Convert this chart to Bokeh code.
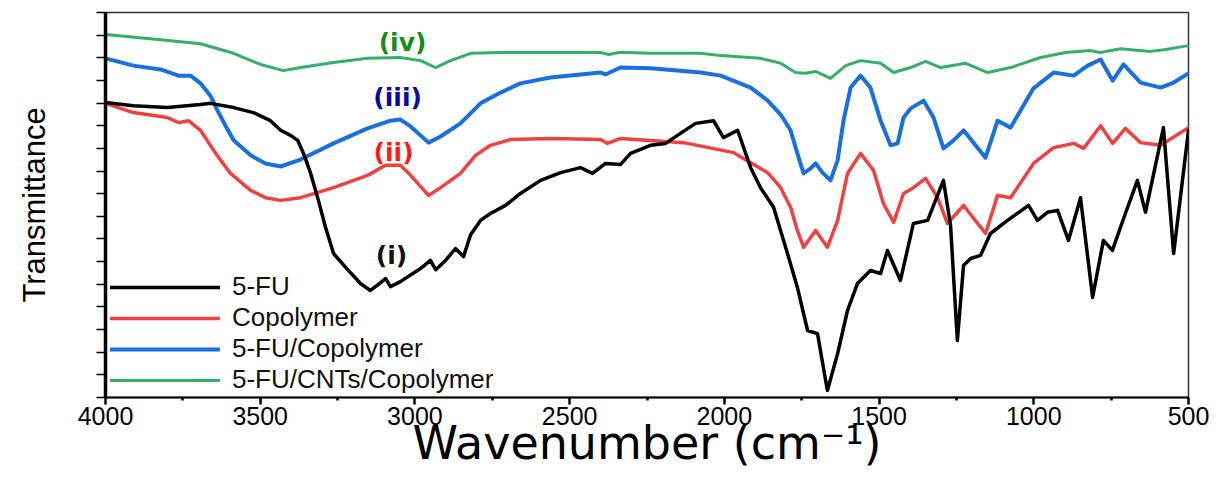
from bokeh.plotting import figure
from bokeh.models import (ColumnDataSource, Range1d, FixedTicker, Legend, LegendItem,
                          Label, CustomJSTickFormatter)
from bokeh.embed import file_html
from bokeh.resources import INLINE

# FT-IR spectra, transmittance in arbitrary units (0-100 over the frame)
fu_wn = [4000, 3910, 3800, 3693, 3661, 3586, 3522, 3467, 3434, 3402, 3379, 3360, 3337, 3312,
         3289, 3263, 3224, 3176, 3144, 3118, 3095, 3079, 3047, 2982, 2950, 2933, 2901, 2869,
         2843, 2820, 2788, 2756, 2707, 2659, 2594, 2529, 2465, 2426, 2384, 2336, 2303, 2239,
         2190, 2142, 2093, 2035, 2003, 1957, 1915, 1883, 1841, 1796, 1764, 1731, 1699, 1667,
         1634, 1602, 1570, 1528, 1495, 1473, 1431, 1389, 1343, 1292, 1269, 1247, 1227, 1204,
         1172, 1140, 1085, 1017, 988, 956, 923, 888, 849, 810, 775, 746, 704, 665, 639, 581,
         548, 500]
fu_t = [76.6, 75.8, 75.3, 76.1, 76.4, 75.3, 74.0, 71.9, 69.4, 68.1, 66.8, 63.4, 58.2, 51.2,
        44.2, 37.4, 33.8, 29.6, 27.8, 29.4, 30.9, 28.8, 30.1, 33.5, 35.6, 33.2, 35.6, 38.7,
        36.6, 42.3, 46.0, 47.8, 49.9, 53.0, 56.4, 58.4, 59.7, 58.2, 60.8, 60.5, 63.4, 65.5,
        66.0, 68.6, 71.2, 71.9, 67.5, 69.4, 59.7, 54.5, 49.4, 37.4, 28.6, 17.4, 16.6, 1.8,
        11.4, 22.6, 29.6, 33.0, 32.2, 38.2, 30.4, 45.2, 46.0, 56.4, 44.7, 14.8, 34.3, 36.1,
        36.9, 42.6, 46.0, 49.9, 46.0, 48.1, 48.6, 40.8, 51.9, 26.0, 40.8, 38.2, 47.8, 56.4,
        48.1, 70.1, 37.4, 69.4]

cop_wn = [4000, 3910, 3800, 3764, 3732, 3693, 3644, 3596, 3531, 3483, 3434, 3370, 3263, 3153,
          3095, 3047, 3014, 2956, 2917, 2853, 2804, 2756, 2691, 2562, 2400, 2378, 2336, 2132,
          1970, 1860, 1818, 1786, 1764, 1744, 1705, 1667, 1634, 1602, 1560, 1518, 1486, 1453,
          1421, 1389, 1350, 1311, 1279, 1227, 1156, 1117, 1075, 1001, 936, 871, 839, 784, 745,
          704, 655, 590, 500]
cop_t = [76.4, 74.0, 72.7, 71.4, 71.9, 69.4, 63.4, 58.2, 53.8, 51.9, 51.2, 51.9, 54.5, 57.7,
         60.3, 60.3, 57.7, 52.5, 54.5, 58.2, 62.9, 65.5, 67.0, 67.3, 67.0, 66.0, 67.3, 66.2,
         63.6, 58.4, 54.5, 49.4, 43.4, 39.0, 43.4, 39.0, 46.0, 58.2, 63.4, 59.0, 50.4, 45.5,
         53.0, 54.5, 56.9, 51.9, 45.2, 49.9, 42.6, 52.5, 51.9, 60.8, 64.9, 66.0, 64.7, 70.6,
         66.0, 69.9, 66.2, 65.5, 70.1]

fucop_wn = [4000, 3910, 3822, 3764, 3725, 3693, 3661, 3638, 3612, 3586, 3531, 3483, 3434, 3370,
            3263, 3153, 3079, 3047, 3014, 2956, 2917, 2853, 2788, 2723, 2659, 2562, 2400, 2384,
            2336, 2239, 2077, 2012, 1915, 1860, 1818, 1786, 1764, 1744, 1721, 1705, 1683, 1657,
            1634, 1615, 1592, 1560, 1528, 1495, 1463, 1440, 1421, 1398, 1356, 1324, 1292, 1259,
            1227, 1156, 1117, 1075, 1001, 936, 871, 826, 784, 745, 710, 655, 590, 548, 500]
fucop_t = [88.1, 86.2, 85.2, 83.6, 83.6, 81.6, 78.4, 74.5, 70.6, 66.8, 62.9, 60.8, 60.0, 61.8,
           66.0, 69.9, 71.9, 72.2, 70.4, 66.2, 67.8, 71.2, 76.4, 79.2, 81.6, 83.1, 84.4, 83.9,
           85.7, 85.5, 84.4, 83.6, 80.5, 77.1, 73.5, 69.4, 63.4, 58.2, 59.5, 60.8, 58.4, 56.4,
           61.6, 71.9, 80.5, 83.6, 80.5, 71.9, 65.5, 66.0, 72.7, 75.1, 77.1, 72.7, 64.7, 66.8,
           69.4, 62.3, 71.9, 70.1, 80.3, 84.4, 83.6, 86.2, 87.8, 82.3, 86.5, 81.8, 80.5, 81.8,
           84.2]

cnt_wn = [4000, 3855, 3693, 3586, 3499, 3425, 3370, 3263, 3153, 3047, 2982, 2933, 2885, 2820,
          2723, 2562, 2400, 2374, 2336, 2239, 2077, 2012, 1883, 1818, 1770, 1738, 1705, 1657,
          1608, 1560, 1495, 1453, 1398, 1350, 1301, 1220, 1149, 1075, 978, 897, 817, 784, 720,
          623, 574, 500]
cnt_t = [94.3, 93.2, 91.9, 89.4, 86.5, 84.9, 85.7, 87.0, 88.1, 88.3, 87.5, 85.7, 87.5, 89.4,
         89.6, 89.6, 89.6, 89.1, 89.7, 89.4, 89.4, 88.8, 88.1, 86.8, 84.4, 84.2, 84.7, 82.9,
         86.2, 87.5, 86.8, 84.4, 85.7, 87.3, 85.7, 86.8, 84.4, 85.7, 88.3, 89.6, 90.1, 89.6,
         90.6, 89.9, 90.4, 91.4]

series_names = ["5-FU", "Copolymer", "5-FU/Copolymer", "5-FU/CNTs/Copolymer"]
curve_tags = ["(i)", "(ii)", "(iii)", "(iv)"]
tag_wn = [3076, 3069, 3056, 3040]
tag_t = [36.9, 63.6, 77.9, 92.2]

x_major = [4000, 3500, 3000, 2500, 2000, 1500, 1000, 500]
x_minor = [3750, 3250, 2750, 2250, 1750, 1250, 750]
y_marks = [i * 100 / 17 for i in range(18)]

FONT = "Liberation Sans"

p = figure(width=1224, height=477, output_backend="svg", toolbar_location=None,
           x_range=Range1d(4000, 500), y_range=Range1d(0, 100),
           min_border_left=105, min_border_right=36, min_border_top=12, min_border_bottom=80,
           background_fill_color="white", border_fill_color="white")
p.grid.visible = False
p.outline_line_color = "#333333"
p.outline_line_width = 1.5

xa = p.xaxis[0]
xa.ticker = FixedTicker(ticks=x_major, minor_ticks=x_minor)
xa.axis_line_width = 2
xa.axis_line_color = "black"
xa.major_tick_in = 0
xa.major_tick_out = 7
xa.major_tick_line_width = 2.5
xa.minor_tick_in = 0
xa.minor_tick_out = 3
xa.minor_tick_line_width = 2.5
xa.major_label_standoff = 2
xa.major_label_text_font = FONT
xa.major_label_text_font_size = "25px"
xa.major_label_text_color = "black"
xa.axis_label = "Wavenumber (cm\u207b\u00b9)"
xa.axis_label_text_font = "DejaVu Sans"
xa.axis_label_text_font_size = "46px"
xa.axis_label_text_font_style = "normal"
xa.axis_label_text_color = "black"
xa.axis_label_standoff = -12

ya = p.yaxis[0]
ya.ticker = FixedTicker(ticks=y_marks)
ya.formatter = CustomJSTickFormatter(code="return ''")
ya.axis_line_width = 3.5
ya.axis_line_color = "black"
ya.major_tick_in = 0
ya.major_tick_out = 9
ya.major_tick_line_width = 1.5
ya.minor_tick_line_color = None
ya.major_label_standoff = 0
ya.axis_label = "Transmittance"
ya.axis_label_text_font = FONT
ya.axis_label_text_font_size = "31px"
ya.axis_label_text_font_style = "normal"
ya.axis_label_text_color = "black"
ya.axis_label_standoff = 45

colors = ["#000000", "#F14040", "#1A6FDF", "#37AD6B"]
widths = [3.5, 3.5, 4, 3]
data = [(fu_wn, fu_t), (cop_wn, cop_t), (fucop_wn, fucop_t), (cnt_wn, cnt_t)]

renderers = {}
for idx in [3, 2, 1, 0]:
    wn, t = data[idx]
    src = ColumnDataSource(dict(wn=wn, t=t))
    renderers[idx] = p.line("wn", "t", source=src, line_color=colors[idx],
                            line_width=widths[idx], line_join="round", line_cap="round")

legend = Legend(items=[LegendItem(label=series_names[i], renderers=[renderers[i]]) for i in range(4)],
                location=(5, 2), orientation="vertical",
                label_text_font=FONT, label_text_font_size="26px", label_text_color="#111111",
                glyph_width=110, glyph_height=26, label_height=26, label_standoff=12,
                spacing=-3, padding=0, margin=0,
                border_line_color=None, background_fill_alpha=0)
p.add_layout(legend)

tag_colors = ["#111111", "#FF1A1A", "#0A0A9A", "#198C19"]
for i in range(4):
    p.add_layout(Label(x=tag_wn[i], y=tag_t[i], text=curve_tags[i], text_align="center",
                       text_baseline="middle", text_font="DejaVu Sans", text_font_size="25px",
                       text_font_style="bold", text_color=tag_colors[i]))

open("out.html", "w").write(file_html(p, INLINE))
